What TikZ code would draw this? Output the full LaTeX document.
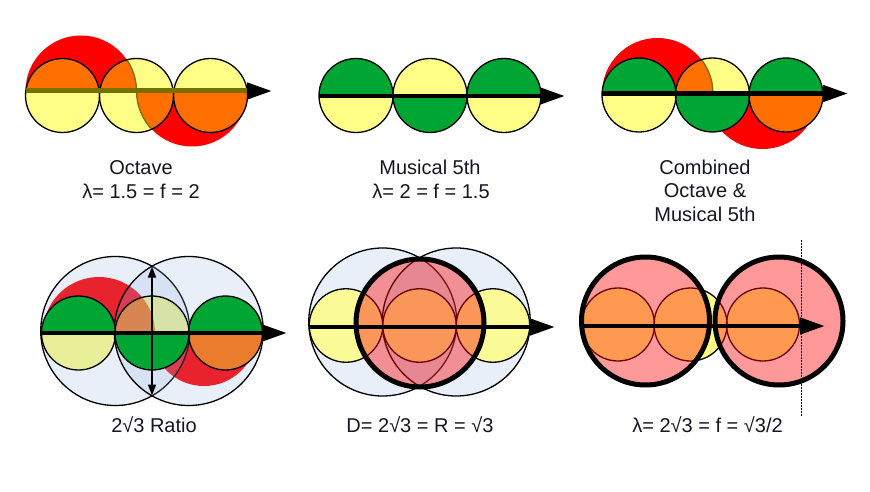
\documentclass[tikz,border=0pt]{standalone}
\usepackage{fontspec}
\setmainfont{Liberation Sans}
\usetikzlibrary{arrows.meta}
\definecolor{yel}{RGB}{255,255,136}
\definecolor{org}{RGB}{255,112,0}
\definecolor{grn}{RGB}{0,166,51}
\definecolor{olv}{RGB}{119,112,0}
\definecolor{bluov}{RGB}{145,175,225}
\definecolor{txt}{RGB}{22,22,34}
\tikzset{
  outl/.style={draw=black,line width=1.3pt},
  axisarrow/.style={line width=4.5pt,-{Triangle[length=25pt,width=16pt]}},
  bluecirc/.style={fill=bluov,fill opacity=0.2,draw=black,line width=1.3pt},
  pinkcirc/.style={fill=red,fill opacity=0.4},
  thickring/.style={draw=black,line width=5pt},
  txtlabel/.style={text=txt,font=\fontsize{20}{24}\selectfont,anchor=base,inner sep=0pt},
  dbl/.style={line width=1.8pt,{Triangle[length=11pt,width=8pt]}-{Triangle[length=11pt,width=8pt]}},
  olvarc/.style={draw=olv,line width=1.3pt},
}
% #1 cx, #2 cy, #3 r, #4 split line y, #5 colour
\newcommand\tophalf[5]{%
  \begin{scope}\clip ({#1-#3-2},{#4}) rectangle ({#1+#3+2},{#2-#3-2});\fill[#5] (#1,#2) circle (#3);\end{scope}}
\newcommand\bothalf[5]{%
  \begin{scope}\clip ({#1-#3-2},{#4}) rectangle ({#1+#3+2},{#2+#3+2});\fill[#5] (#1,#2) circle (#3);\end{scope}}
\begin{document}
\begin{tikzpicture}[x=1pt,y=-1pt]
\useasboundingbox (0,0) rectangle (870,492);
\fill[white] (0,0) rectangle (870,492);

% ---------- Panel 1: Octave ----------
\tophalf{81}{91}{55.5}{91}{red}
\bothalf{192}{91}{55.5}{91}{red}
\tophalf{62.5}{95.5}{37}{91}{org}
\bothalf{62.5}{95.5}{37}{91}{yel}
\fill[yel] (136.5,95.5) circle (37);
\begin{scope}\clip (81,91) circle (55.5); \tophalf{136.5}{95.5}{37}{91}{org}\end{scope}
\begin{scope}\clip (192,91) circle (55.5); \bothalf{136.5}{95.5}{37}{91}{org}\end{scope}
\begin{scope}\clip (136.5,95.5) circle (37); \clip (95,91) rectangle (180,50); \draw[olvarc] (81,91) circle (55.5);\end{scope}
\begin{scope}\clip (136.5,95.5) circle (37); \clip (95,91) rectangle (180,140); \draw[olvarc] (192,91) circle (55.5);\end{scope}
\tophalf{210.5}{95.5}{37}{91}{yel}
\bothalf{210.5}{95.5}{37}{91}{org}
\foreach \x in {62.5,136.5,210.5} \draw[outl] (\x,95.5) circle (37);
\coordinate (p1s) at (25.5,91);
\coordinate (p1e) at (272,91);
\draw[axisarrow] (p1s) -- (p1e);
\draw[olv,line width=5pt,shorten >=25pt] (p1s) -- (p1e);

% ---------- Panel 2: Musical 5th ----------
\tophalf{356}{95.5}{37}{96}{grn}
\bothalf{356}{95.5}{37}{96}{yel}
\tophalf{430}{95.5}{37}{96}{yel}
\bothalf{430}{95.5}{37}{96}{grn}
\tophalf{504}{95.5}{37}{96}{grn}
\bothalf{504}{95.5}{37}{96}{yel}
\foreach \x in {356,430,504} \draw[outl] (\x,95.5) circle (37);
\coordinate (p2s) at (319,96);
\coordinate (p2e) at (565,96);
\draw[axisarrow] (p2s) -- (p2e);

% ---------- Panel 3: Combined ----------
\tophalf{657.5}{93.5}{55.5}{93.5}{red}
\bothalf{762.5}{93.5}{55.5}{93.5}{red}
\tophalf{639}{95}{37}{93.5}{grn}
\bothalf{639}{95}{37}{93.5}{yel}
\tophalf{712.5}{95}{37}{93.5}{yel}
\begin{scope}\clip (657.5,93.5) circle (55.5); \tophalf{712.5}{95}{37}{93.5}{org}\end{scope}
\begin{scope}\clip (712.5,95) circle (37); \clip (670,93.5) rectangle (755,50); \draw[olvarc] (657.5,93.5) circle (55.5);\end{scope}
\bothalf{712.5}{95}{37}{93.5}{grn}
\tophalf{786}{95}{37}{93.5}{grn}
\bothalf{786}{95}{37}{93.5}{org}
\foreach \x in {639,712.5,786} \draw[outl] (\x,95) circle (37);
\coordinate (p3s) at (602,93.5);
\coordinate (p3e) at (848,93.5);
\draw[axisarrow] (p3s) -- (p3e);

% ---------- Panel 4: 2sqrt3 ratio ----------
\tophalf{99}{333}{56}{333}{red}
\bothalf{204}{333}{53}{333}{red}
\bothalf{78.5}{333}{37}{333}{yel}
\tophalf{152}{333}{37}{333}{yel}
\begin{scope}\clip (99,333) circle (56); \tophalf{152}{333}{37}{333}{org}\end{scope}
\bothalf{225.5}{333}{37}{333}{org}
\draw[bluecirc] (115.25,331) circle (74.5);
\draw[bluecirc] (188.75,331) circle (74.5);
\tophalf{78.5}{333}{37}{333}{grn}
\bothalf{152}{333}{37}{333}{grn}
\tophalf{225.5}{333}{37}{333}{grn}
\foreach \x in {78.5,152,225.5} \draw[outl] (\x,333) circle (37);
\coordinate (p4s) at (41.5,333);
\coordinate (p4e) at (287,333);
\draw[axisarrow] (p4s) -- (p4e);
\coordinate (v4t) at (152,266.5);
\coordinate (v4b) at (152,395.5);
\draw[dbl] (v4t) -- (v4b);

% ---------- Panel 5: D = 2sqrt3 ----------
\draw[bluecirc] (382.75,322) circle (74);
\draw[bluecirc] (456.25,322) circle (74);
\foreach \x in {346,419.5,493} \fill[yel,fill opacity=0.85] (\x,325.5) circle (36.75);
\foreach \x in {346,419.5,493} \draw[outl] (\x,325.5) circle (36.75);
\fill[pinkcirc] (420,323) circle (64);
\draw[thickring] (420,323) circle (64);
\coordinate (p5s) at (309.5,327);
\coordinate (p5e) at (555,327);
\draw[axisarrow] (p5s) -- (p5e);

% ---------- Panel 6: lambda = 2sqrt3 ----------
\foreach \x in {618,690.5,763} \fill[yel] (\x,324.5) circle (36.5);
\foreach \x in {618,690.5,763} \draw[outl] (\x,324.5) circle (36.5);
\fill[pinkcirc] (645.5,321) circle (64);
\fill[pinkcirc] (779,321) circle (64);
\draw[thickring] (645.5,321) circle (64);
\draw[thickring] (779,321) circle (64);
\coordinate (p6s) at (581,326);
\coordinate (p6e) at (825,326);
\draw[axisarrow] (p6s) -- (p6e);
\coordinate (d1) at (801.5,240);
\coordinate (d2) at (801.5,417);
\draw[line width=1.2pt,dash pattern=on 1.5pt off 1.5pt] (d1) -- (d2);

% ---------- Labels ----------
\node[txtlabel] (t1a) at (141,175) {Octave};
\node[txtlabel] (t1b) at (141,198) {λ= 1.5 = f = 2};
\node[txtlabel] (t2a) at (430,175) {Musical 5th};
\node[txtlabel] (t2b) at (431,198) {λ= 2 = f = 1.5};
\node[txtlabel] (t3a) at (705,174) {Combined};
\node[txtlabel] (t3b) at (705,197.5) {Octave \&};
\node[txtlabel] (t3c) at (705,221.5) {Musical 5th};
\node[txtlabel] (t4) at (154,432) {2√3 Ratio};
\node[txtlabel] (t5) at (420,432) {D= 2√3 = R = √3};
\node[txtlabel] (t6) at (707.5,432) {λ= 2√3 = f = √3/2};
\end{tikzpicture}
\end{document}
